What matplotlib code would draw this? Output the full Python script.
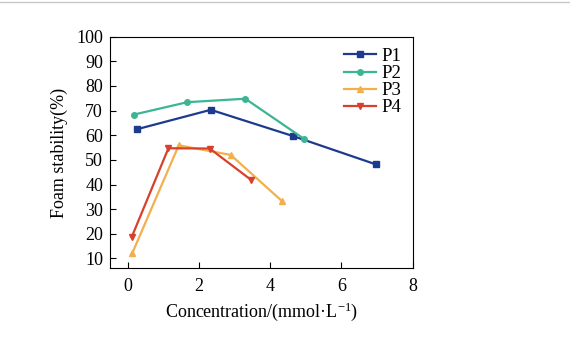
import matplotlib.pyplot as plt
from matplotlib.lines import Line2D

plt.rcParams['font.family'] = ['Liberation Serif', 'DejaVu Serif']

p1_x = [0.25, 2.33, 4.63, 6.96]
p1_y = [62.4, 70.3, 59.7, 48.2]
p2_x = [0.18, 1.67, 3.30, 4.94]
p2_y = [68.4, 73.4, 74.8, 58.6]
p3_x = [0.13, 1.43, 2.89, 4.32]
p3_y = [12.3, 55.9, 52.0, 33.4]
p4_x = [0.11, 1.14, 2.30, 3.45]
p4_y = [18.7, 54.7, 54.6, 42.0]

fig = plt.figure(figsize=(5.7, 3.39), dpi=100)
ax = fig.add_axes([0.193, 0.2085, 0.531, 0.6835])

# thin grey rule along the top of the page
fig.add_artist(Line2D([0, 1], [0.993, 0.993], transform=fig.transFigure,
                      color='#c8c8c8', lw=1))

ax.plot(p1_x, p1_y, color='#1c3b8c', marker='s', ms=4, lw=1.6, label='P1')
ax.plot(p2_x, p2_y, color='#3cb595', marker='o', ms=4, lw=1.6, label='P2')
ax.plot(p3_x, p3_y, color='#f2b04c', marker='^', ms=4, lw=1.6, label='P3')
ax.plot(p4_x, p4_y, color='#d8402b', marker='v', ms=4, lw=1.6, label='P4')

ax.set_xlim(-0.5, 8)
ax.set_ylim(6, 100)
ax.set_xticks([0, 2, 4, 6, 8])
ax.set_yticks(range(10, 101, 10))
ax.tick_params(direction='in', labelsize=13, length=4)
ax.tick_params(axis='x', pad=7)
ax.tick_params(axis='y', pad=5)
ax.set_xlabel('Concentration/(mmol·L$\\mathregular{^{-1}}$)', fontsize=13, labelpad=4)
ax.set_ylabel('Foam stability(%)', fontsize=13, labelpad=6)
ax.legend(loc='upper right', frameon=False, fontsize=13.5, handlelength=1.7,
          labelspacing=0.0, handletextpad=0.3, borderaxespad=0.2)

fig.savefig('out.png')
